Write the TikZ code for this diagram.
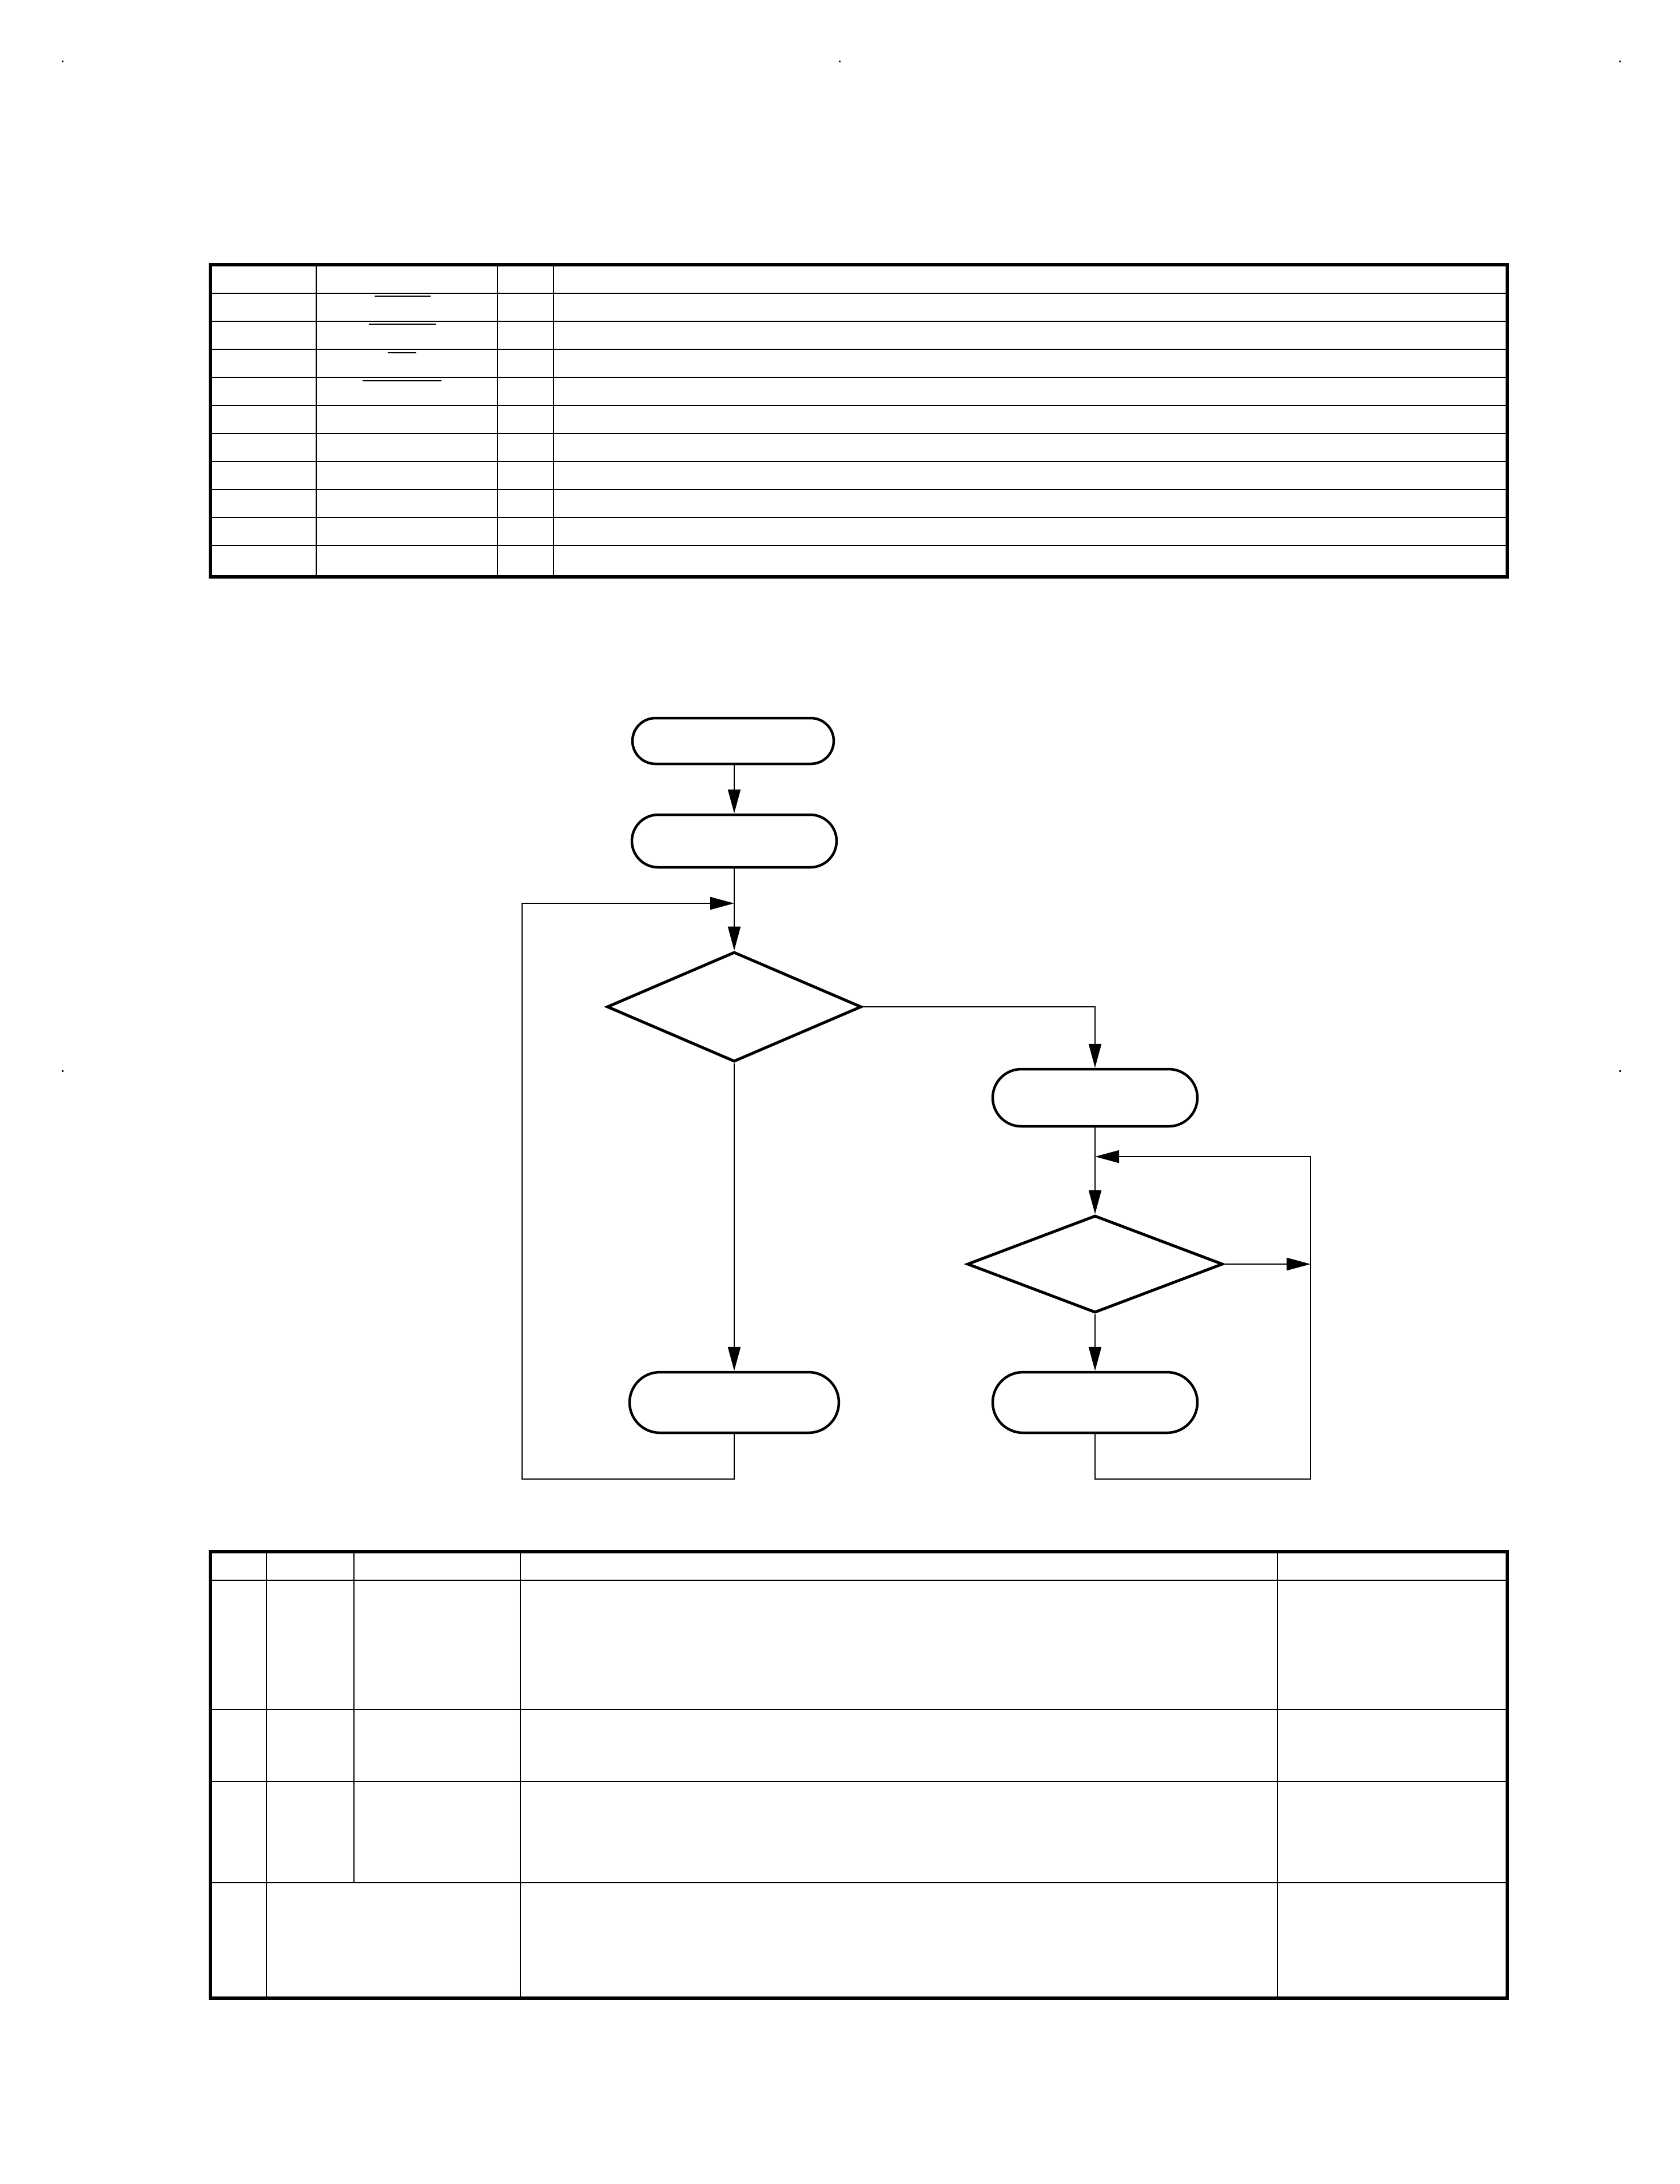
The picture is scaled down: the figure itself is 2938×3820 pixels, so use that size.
\documentclass[tikz,border=0pt]{standalone}
\usetikzlibrary{arrows.meta,shapes.geometric,shapes.misc}

\tikzset{
  frame/.style={line width=5.5pt},
  rule/.style={line width=2pt},
  rulex/.style={line width=2.5pt},
  term/.style={draw, rounded rectangle, line width=4.5pt, inner sep=0pt},
  test/.style={draw, diamond, line width=5pt, inner sep=0pt},
  flow/.style={line width=2.5pt},
  arr/.style={flow, -{Triangle[length=42pt,width=22pt]}}
}

\begin{document}
\begin{tikzpicture}[x=1pt,y=-1pt]
\useasboundingbox (0,0) rectangle (2938,3820);

% corner marks
\foreach \mx/\my in {109/107, 1468/107, 2833/107, 109/1873, 2833/1873}
  \fill (\mx-1.5,\my-1.5) rectangle (\mx+1.5,\my+1.5);

% upper table
\foreach \ry in {513,562,...,954}
  \draw[rule] (368,\ry) -- (2636,\ry);
\foreach \cx in {553,870,968}
  \draw[rule] (\cx,463) -- (\cx,1009);
\foreach \ox/\oy/\ow in {704/518/98, 703/567/117, 703/617/50, 703/666/138}
  \draw[rule] (\ox-\ow/2,\oy) -- (\ox+\ow/2,\oy);
\draw[frame] (368,463) rectangle (2636,1009);

% flowchart
\node[term, minimum width=352pt, minimum height=80pt] (start) at (1282,1296) {};
\node[term, minimum width=358pt, minimum height=92pt] (init) at (1284,1471) {};
\node[test, minimum width=445pt, minimum height=192pt] (check) at (1284,1761) {};
\node[term, minimum width=366pt, minimum height=106pt] (idle) at (1284,2453) {};
\node[term, minimum width=358pt, minimum height=100pt] (ready) at (1915,1920) {};
\node[test, minimum width=447pt, minimum height=170pt] (poll) at (1915,2211) {};
\node[term, minimum width=358pt, minimum height=106pt] (work) at (1915,2453) {};

\coordinate (joinL) at (1284,1580);
\coordinate (loopL) at (913,2587);
\coordinate (joinR) at (1915,2023);
\coordinate (loopR) at (2292,2587);

\draw[arr] (start.south -| init.north) -- (init);
\draw[arr] (init) -- (check);
\draw[arr] (check) -- (idle);
\draw[arr] (check.east) -| (ready.north);
\draw[arr] (ready) -- (poll);
\draw[arr] (poll) -- (work);
\draw[arr] (poll.east) -- (poll.east -| loopR);
\draw[arr] (idle.south) |- (loopL) |- (joinL);
\draw[arr] (work.south) |- (loopR) |- (joinR);

% lower table
\foreach \ry in {2764,2990,3116,3293}
  \draw[rulex] (368,\ry) -- (2636,\ry);
\foreach \cx in {466,910,2234}
  \draw[rulex] (\cx,2714) -- (\cx,3495);
\draw[rulex] (619,2714) -- (619,3293);
\draw[frame] (368,2714) rectangle (2636,3495);
\end{tikzpicture}
\end{document}
